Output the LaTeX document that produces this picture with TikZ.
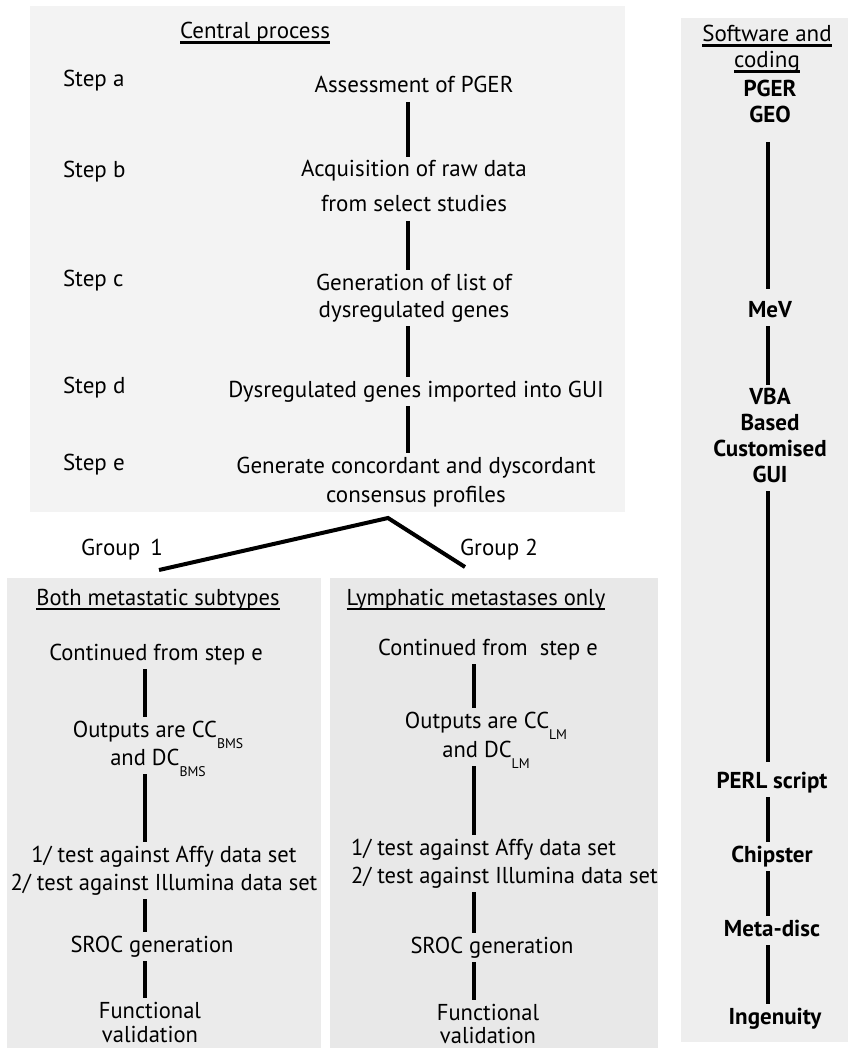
\documentclass[tikz,border=0pt]{standalone}
\usepackage{fontspec}
\setmainfont{PT Sans}
\newfontfamily\narrowfont[FakeStretch=0.98]{PT Sans}
\definecolor{panelA}{HTML}{F3F3F3}
\definecolor{panelB}{HTML}{EBEBEB}
\definecolor{panelC}{HTML}{E8E8E8}
\definecolor{panelD}{HTML}{EEEEEE}
\newcommand{\hdline}[1]{\setbox0=\hbox{#1}\rlap{\rule[-5pt]{\wd0}{2.5pt}}\box0}
\newcommand{\lowsub}[1]{\raisebox{-11pt}{\fontsize{14}{14}\selectfont #1}}
\begin{document}
\begin{tikzpicture}[x=1pt,y=-1pt]
\tikzstyle{txt}=[inner sep=0pt,outer sep=4pt,align=center,text depth=5pt,font=\fontsize{23}{28}\selectfont]
\tikzstyle{stp}=[txt,anchor=base west]
\tikzstyle{grp}=[txt,anchor=base,font=\narrowfont\fontsize{23}{28}\selectfont]
\tikzstyle{sw}=[txt,anchor=base,font=\fontsize{23}{26}\selectfont\bfseries]
\tikzstyle{lnk}=[line width=4.5pt]
\useasboundingbox (0,0) rectangle (853,1048);
% panels
\fill[panelA] (30,6) rectangle (625,512);
\fill[panelB] (7,578) rectangle (321,1060);
\fill[panelC] (330,578) rectangle (658,1060);
\fill[panelD] (681,18) rectangle (848,1042);
% column positions for the links
\coordinate (ccol) at (408,0);
\coordinate (lcol) at (145,0);
\coordinate (mcol) at (474,0);
\coordinate (scol) at (768,0);
% central process (multi-line nodes sit on their last baseline)
\node[txt,anchor=base] (hc) at (255,39) {\hdline{Central process}};
\node[stp] (sa) at (59,87) {Step a};
\node[stp] (sb) at (59,178) {Step b};
\node[stp] (sc) at (59,287) {Step c};
\node[stp] (sd) at (59,393) {Step d};
\node[stp] (se) at (59,470) {Step e};
\node[txt,anchor=base] (pa) at (414,93) {Assessment of PGER};
\node[txt,anchor=base] (pb) at (414,212) {Acquisition of raw data\\[7pt]from select studies};
\node[txt,anchor=base,font=\fontsize{23}{27}\selectfont] (pc) at (414,317) {Generation of list of\\dysregulated genes};
\node[txt,anchor=base] (pd) at (416,397) {Dysregulated genes imported into GUI};
\node[txt,anchor=base,font=\fontsize{23}{29}\selectfont] (pe) at (416,502) {Generate concordant and dyscordant\\consensus profiles};
\draw[lnk] (pa.south -| ccol) -- (pb.north -| ccol);
\draw[lnk] (pb.south -| ccol) -- (pc.north -| ccol);
\draw[lnk] (pc.south -| ccol) -- (pd.north -| ccol);
\draw[lnk] (pd.south -| ccol) -- (pe.north -| ccol);
% split into the two groups
\coordinate (apex) at (388,518);
\coordinate (g1end) at (159,570);
\coordinate (g2end) at (465,567);
\draw[lnk,line width=4pt] (g1end) -- (apex) -- (g2end);
\node[txt,anchor=base] (g1) at (122,555) {Group\hspace{4pt} 1};
\node[txt,anchor=base] (g2) at (499,555) {Group 2};
% group 1
\node[grp] (hl) at (158,605) {\hdline{Both metastatic subtypes}};
\node[grp] (l1) at (156,660) {Continued from step e};
\node[grp] (l2) at (158,765) {Outputs are CC\lowsub{BMS}\\and DC\lowsub{BMS}};
\node[grp] (l3) at (164,890) {1/ test against Affy data set\\2/ test against Illumina data set};
\node[grp] (l4) at (152,952) {SROC generation};
\node[grp,text depth=0pt,font=\narrowfont\fontsize{23}{24}\selectfont] (l5) at (150,1042) {Functional\\validation};
\draw[lnk] (l1.south -| lcol) -- (l2.north -| lcol);
\draw[lnk] (l2.south -| lcol) -- (l3.north -| lcol);
\draw[lnk] (l3.south -| lcol) -- (l4.north -| lcol);
\draw[lnk] (l4.south -| lcol) -- (l5.north -| lcol);
% group 2
\node[grp] (hm) at (476,605) {\hdline{Lymphatic metastases only}};
\node[grp] (m1) at (488,655) {Continued from\ \ step e};
\node[grp,font=\narrowfont\fontsize{23}{29}\selectfont] (m2) at (486,757) {Outputs are CC\lowsub{LM}\\and DC\lowsub{LM}};
\node[grp,anchor=base west,align=left] (m3) at (347,883) {1/ test against Affy data set\\2/ test against Illumina data set};
\node[grp] (m4) at (492,953) {SROC generation};
\node[grp,text depth=0pt,font=\narrowfont\fontsize{23}{23}\selectfont] (m5) at (488,1043) {Functional\\validation};
\draw[lnk] (m1.south -| mcol) -- (m2.north -| mcol);
\draw[lnk] (m2.south -| mcol) -- (m3.north -| mcol);
\draw[lnk] (m3.south -| mcol) -- (m4.north -| mcol);
\draw[lnk] (m4.south -| mcol) -- (m5.north -| mcol);
% software and coding
\node[txt,anchor=base,font=\fontsize{23}{26}\selectfont] (hs) at (767,68) {\hdline{Software and}\\\hdline{coding}};
\node[sw] (s1) at (770,123) {PGER\\GEO};
\node[sw] (s2) at (770,317) {MeV};
\node[sw,font=\fontsize{23}{25.7}\selectfont\bfseries] (s3) at (770,482) {VBA\\Based\\Customised\\GUI};
\node[sw] (s4) at (772,788) {PERL script};
\node[sw] (s5) at (772,862) {Chipster};
\node[sw] (s6) at (772,936) {Meta-disc};
\node[sw] (s7) at (775,1024) {Ingenuity};
\draw[lnk,shorten <=10pt,shorten >=8pt] (s1.south -| scol) -- (s2.north -| scol);
\draw[lnk] (s2.south -| scol) -- (s3.north -| scol);
\draw[lnk,shorten >=6pt] (s3.south -| scol) -- (s4.north -| scol);
\draw[lnk] (s4.south -| scol) -- (s5.north -| scol);
\draw[lnk] (s5.south -| scol) -- (s6.north -| scol);
\draw[lnk] (s6.south -| scol) -- (s7.north -| scol);
\end{tikzpicture}
\end{document}
